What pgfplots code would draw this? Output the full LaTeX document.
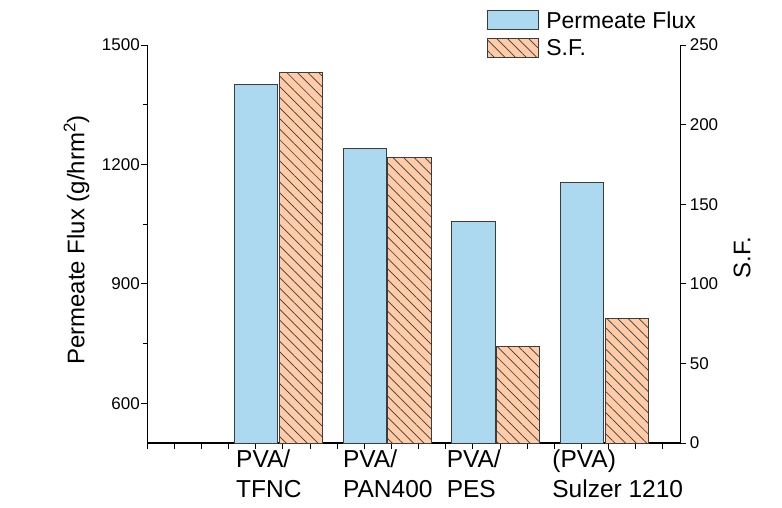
\documentclass[border=0pt]{standalone}
\usepackage{pgfplots}
\pgfplotsset{compat=1.18}
\usetikzlibrary{patterns.meta}
\usepackage{fontspec}
\setmainfont{Liberation Sans}
\definecolor{fluxblue}{RGB}{172,216,240}
\definecolor{sfpeach}{RGB}{255,203,168}
\definecolor{baredge}{RGB}{60,60,60}

\pgfplotsset{
  twin/.style={
    scale only axis, width=533pt, height=398pt,
    xmin=-0.21, xmax=4.70,
    axis line style={line width=1.1pt},
    tick style={line width=1pt, black},
    tick align=outside,
    major tick length=6pt, minor tick length=4pt,
    /pgf/number format/assume math mode=true,
    /pgf/number format/1000 sep={},
    ticklabel style={font=\fontsize{17}{20}\selectfont},
    label style={font=\fontsize{24}{28}\selectfont},
  },
  barlegend/.style={legend image code/.code={\draw[##1] (0pt,-9.5pt) rectangle (51pt,9.5pt);}},
}

\begin{document}
\begin{tikzpicture}
\useasboundingbox (-147.3pt,-64pt) rectangle (634.7pt,443pt);

\begin{axis}[twin,
  axis x line*=bottom, axis y line*=left,
  ymin=500, ymax=1500,
  ytick={600,900,1200,1500}, minor ytick={750,1050,1350},
  yticklabel style={xshift=2pt},
  xtick={-0.21,0.04,...,4.6}, xticklabels={},
  extra x ticks={1,1.985,2.94,3.913},
  extra x tick labels={{PVA/\\TFNC},{PVA/\\PAN400},{PVA/\\PES},{(PVA)\\Sulzer 1210}},
  extra x tick style={major tick length=0pt,
    xticklabel style={anchor=north west, align=left, xshift=-46pt, yshift=-3pt,
      font=\fontsize{24.5}{30}\selectfont}},
  ylabel={Permeate Flux (g/hrm\textsuperscript{2})},
  ylabel style={at={(axis description cs:-0.133,0.51)}, anchor=center},
]
\addplot[ybar, bar width=0.4, bar shift=-0.207, fill=fluxblue, draw=baredge, line width=1pt]
  coordinates {(1,1402) (2,1241) (3,1056) (4,1154)};
\end{axis}

\begin{axis}[twin,
  axis y line*=right, axis x line=none,
  ymin=0, ymax=250,
  ytick={0,50,...,250},
  ylabel={S.F.},
  ylabel style={at={(axis description cs:1.116,0.466)}, anchor=center},
  legend style={at={(axis description cs:0.632,1.095)}, anchor=north west,
    draw=none, fill=none, font=\fontsize{23}{27}\selectfont,
    row sep=6pt, column sep=5pt, cells={anchor=west}},
]
\addlegendimage{barlegend, fill=fluxblue, draw=baredge, line width=1pt}
\addlegendentry{Permeate Flux}
\addplot[barlegend, ybar, bar width=0.4, bar shift=0.207, fill=sfpeach, draw=baredge, line width=1pt,
  postaction={pattern={Lines[angle=-45,distance=7.5pt,line width=0.7pt]}, pattern color=baredge}]
  coordinates {(1,232.5) (2,179.5) (3,60.5) (4,78.5)};
\addlegendentry{S.F.}
\end{axis}
\end{tikzpicture}
\end{document}
